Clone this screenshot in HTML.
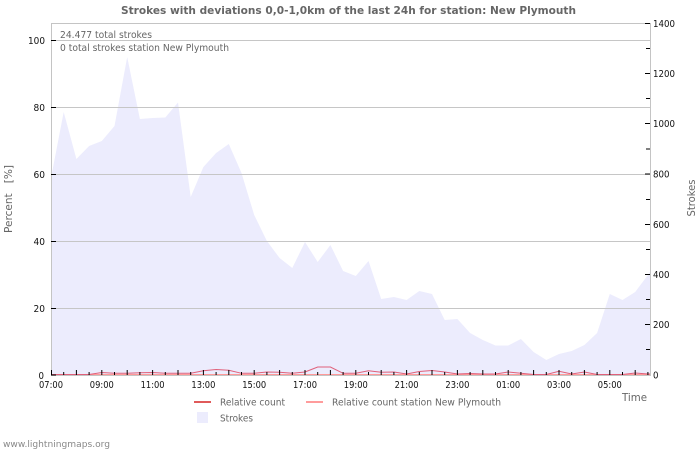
<!DOCTYPE html>
<html>
<head>
<meta charset="utf-8">
<style>
html,body{margin:0;padding:0;background:#fff;}
svg{display:block;}
text{font-family:"DejaVu Sans","Liberation Sans",sans-serif;}
</style>
</head>
<body>
<svg width="700" height="450" viewBox="0 0 700 450" xmlns="http://www.w3.org/2000/svg">
<rect width="700" height="450" fill="#fff"/>
<text x="348.5" y="14" text-anchor="middle" font-size="11" font-weight="bold" fill="#666" textLength="455" lengthAdjust="spacingAndGlyphs">Strokes with deviations 0,0-1,0km of the last 24h for station: New Plymouth</text>

<path fill="#ececfd" d="M51,375 L51,178 L63.7,112 L76.4,159 L89.1,146 L101.8,141 L114.5,126 L127.2,57 L139.9,119 L152.6,118 L165.3,117.5 L178,102.5 L190.7,197 L203.4,167 L216.1,153 L228.8,144 L241.5,173 L254.2,215 L266.9,241 L279.6,258 L292.3,268 L305,242 L317.7,262 L330.4,245 L343.1,271 L355.8,276 L368.5,261 L381.2,299 L393.9,297 L406.6,300 L419.3,291 L432,294 L444.7,320 L457.4,319 L470.1,333 L482.8,340 L495.5,345.5 L508.2,345.5 L520.9,339 L533.6,352 L546.3,360 L559,354 L571.7,351 L584.4,345 L597.1,333 L609.8,294 L622.5,300 L635.2,292 L647.9,275 L650,272 L650,375 Z"/>

<g stroke="#c6c6c6" stroke-width="1">
<line x1="51" y1="40.5" x2="650" y2="40.5"/>
<line x1="51" y1="107.5" x2="650" y2="107.5"/>
<line x1="51" y1="174.5" x2="650" y2="174.5"/>
<line x1="51" y1="241.5" x2="650" y2="241.5"/>
<line x1="51" y1="308.5" x2="650" y2="308.5"/>
</g>
<g stroke="#c4c4c4" stroke-width="1" fill="none">
<line x1="51" y1="23.5" x2="650" y2="23.5"/>
<line x1="51.5" y1="23" x2="51.5" y2="375"/>
<line x1="650.5" y1="23" x2="650.5" y2="375"/>
<line x1="51" y1="375.5" x2="651" y2="375.5"/>
</g>

<line x1="51" y1="374.5" x2="650" y2="374.5" stroke="#ff9999" stroke-width="1"/>
<polyline fill="none" stroke="#e0607a" stroke-width="1" points="51,374.5 63.7,374.5 76.4,374.5 89.1,374.5 101.8,372.5 114.5,373.3 127.2,373.3 139.9,372.7 152.6,372.5 165.3,373.3 178,373.3 190.7,373.3 203.4,370.8 216.1,369.5 228.8,370.3 241.5,373.3 254.2,373.3 266.9,372 279.6,372.3 292.3,373.3 305,372 317.7,367 330.4,367 343.1,373.3 355.8,373.3 368.5,370.7 381.2,372.3 393.9,372 406.6,374 419.3,371.5 432,370.5 444.7,372 457.4,374 470.1,373.5 482.8,374 495.5,374 508.2,372 520.9,373.3 533.6,374.5 546.3,374.5 559,371.3 571.7,374 584.4,372 597.1,374.5 609.8,374.5 622.5,374.5 635.2,373 647.9,374 650,374"/>

<g stroke="#000" stroke-width="1">
<line x1="51" y1="40.5" x2="56" y2="40.5"/>
<line x1="51" y1="107.5" x2="56" y2="107.5"/>
<line x1="51" y1="174.5" x2="56" y2="174.5"/>
<line x1="51" y1="241.5" x2="56" y2="241.5"/>
<line x1="51" y1="308.5" x2="56" y2="308.5"/>
<line x1="51" y1="375" x2="56" y2="375"/>
</g>
<g stroke="#000" stroke-width="1">
<line x1="645" y1="23.5" x2="650" y2="23.5"/>
<line x1="645" y1="73.5" x2="650" y2="73.5"/>
<line x1="645" y1="123.5" x2="650" y2="123.5"/>
<line x1="645" y1="174" x2="650" y2="174"/>
<line x1="645" y1="224.5" x2="650" y2="224.5"/>
<line x1="645" y1="274.5" x2="650" y2="274.5"/>
<line x1="645" y1="324.5" x2="650" y2="324.5"/>
<line x1="646" y1="48.5" x2="650" y2="48.5"/>
<line x1="646" y1="98.5" x2="650" y2="98.5"/>
<line x1="646" y1="149" x2="650" y2="149"/>
<line x1="646" y1="199.5" x2="650" y2="199.5"/>
<line x1="646" y1="249.5" x2="650" y2="249.5"/>
<line x1="646" y1="299.5" x2="650" y2="299.5"/>
<line x1="646" y1="349.5" x2="650" y2="349.5"/>
</g>
<g stroke="#000" stroke-width="1">
<line x1="51.5" y1="370" x2="51.5" y2="375"/>
<line x1="63.7" y1="372" x2="63.7" y2="375"/>
<line x1="76.4" y1="370" x2="76.4" y2="375"/>
<line x1="89.1" y1="372" x2="89.1" y2="375"/>
<line x1="101.8" y1="370" x2="101.8" y2="375"/>
<line x1="114.5" y1="372" x2="114.5" y2="375"/>
<line x1="127.2" y1="370" x2="127.2" y2="375"/>
<line x1="139.9" y1="372" x2="139.9" y2="375"/>
<line x1="152.6" y1="370" x2="152.6" y2="375"/>
<line x1="165.3" y1="372" x2="165.3" y2="375"/>
<line x1="178" y1="370" x2="178" y2="375"/>
<line x1="190.7" y1="372" x2="190.7" y2="375"/>
<line x1="203.4" y1="370" x2="203.4" y2="375"/>
<line x1="216.1" y1="372" x2="216.1" y2="375"/>
<line x1="228.8" y1="370" x2="228.8" y2="375"/>
<line x1="241.5" y1="372" x2="241.5" y2="375"/>
<line x1="254.2" y1="370" x2="254.2" y2="375"/>
<line x1="266.9" y1="372" x2="266.9" y2="375"/>
<line x1="279.6" y1="370" x2="279.6" y2="375"/>
<line x1="292.3" y1="372" x2="292.3" y2="375"/>
<line x1="305" y1="370" x2="305" y2="375"/>
<line x1="317.7" y1="372" x2="317.7" y2="375"/>
<line x1="330.4" y1="370" x2="330.4" y2="375"/>
<line x1="343.1" y1="372" x2="343.1" y2="375"/>
<line x1="355.8" y1="370" x2="355.8" y2="375"/>
<line x1="368.5" y1="372" x2="368.5" y2="375"/>
<line x1="381.2" y1="370" x2="381.2" y2="375"/>
<line x1="393.9" y1="372" x2="393.9" y2="375"/>
<line x1="406.6" y1="370" x2="406.6" y2="375"/>
<line x1="419.3" y1="372" x2="419.3" y2="375"/>
<line x1="432" y1="370" x2="432" y2="375"/>
<line x1="444.7" y1="372" x2="444.7" y2="375"/>
<line x1="457.4" y1="370" x2="457.4" y2="375"/>
<line x1="470.1" y1="372" x2="470.1" y2="375"/>
<line x1="482.8" y1="370" x2="482.8" y2="375"/>
<line x1="495.5" y1="372" x2="495.5" y2="375"/>
<line x1="508.2" y1="370" x2="508.2" y2="375"/>
<line x1="520.9" y1="372" x2="520.9" y2="375"/>
<line x1="533.6" y1="370" x2="533.6" y2="375"/>
<line x1="546.3" y1="372" x2="546.3" y2="375"/>
<line x1="559" y1="370" x2="559" y2="375"/>
<line x1="571.7" y1="372" x2="571.7" y2="375"/>
<line x1="584.4" y1="370" x2="584.4" y2="375"/>
<line x1="597.1" y1="372" x2="597.1" y2="375"/>
<line x1="609.8" y1="370" x2="609.8" y2="375"/>
<line x1="622.5" y1="372" x2="622.5" y2="375"/>
<line x1="635.2" y1="370" x2="635.2" y2="375"/>
<line x1="647.9" y1="372" x2="647.9" y2="375"/>
</g>

<g font-size="10" fill="#111" text-anchor="end">
<text x="45" y="44" textLength="17" lengthAdjust="spacingAndGlyphs">100</text>
<text x="45" y="111" textLength="11.5" lengthAdjust="spacingAndGlyphs">80</text>
<text x="45" y="178" textLength="11.5" lengthAdjust="spacingAndGlyphs">60</text>
<text x="45" y="245" textLength="11.5" lengthAdjust="spacingAndGlyphs">40</text>
<text x="45" y="312" textLength="11.5" lengthAdjust="spacingAndGlyphs">20</text>
<text x="44" y="379" textLength="5.5" lengthAdjust="spacingAndGlyphs">0</text>
</g>
<g font-size="10" fill="#111">
<text x="653" y="27" textLength="22" lengthAdjust="spacingAndGlyphs">1400</text>
<text x="653" y="77" textLength="22" lengthAdjust="spacingAndGlyphs">1200</text>
<text x="653" y="127" textLength="22" lengthAdjust="spacingAndGlyphs">1000</text>
<text x="653" y="177.5" textLength="16.5" lengthAdjust="spacingAndGlyphs">800</text>
<text x="653" y="228" textLength="16.5" lengthAdjust="spacingAndGlyphs">600</text>
<text x="653" y="278" textLength="16.5" lengthAdjust="spacingAndGlyphs">400</text>
<text x="653" y="328" textLength="16.5" lengthAdjust="spacingAndGlyphs">200</text>
<text x="653" y="378.5" textLength="5.5" lengthAdjust="spacingAndGlyphs">0</text>
</g>
<g font-size="10" fill="#111" text-anchor="middle">
<text x="51" y="388" textLength="24" lengthAdjust="spacingAndGlyphs">07:00</text>
<text x="101.8" y="388" textLength="24" lengthAdjust="spacingAndGlyphs">09:00</text>
<text x="152.6" y="388" textLength="24" lengthAdjust="spacingAndGlyphs">11:00</text>
<text x="203.4" y="388" textLength="24" lengthAdjust="spacingAndGlyphs">13:00</text>
<text x="254.2" y="388" textLength="24" lengthAdjust="spacingAndGlyphs">15:00</text>
<text x="305" y="388" textLength="24" lengthAdjust="spacingAndGlyphs">17:00</text>
<text x="355.8" y="388" textLength="24" lengthAdjust="spacingAndGlyphs">19:00</text>
<text x="406.6" y="388" textLength="24" lengthAdjust="spacingAndGlyphs">21:00</text>
<text x="457.4" y="388" textLength="24" lengthAdjust="spacingAndGlyphs">23:00</text>
<text x="508.2" y="388" textLength="24" lengthAdjust="spacingAndGlyphs">01:00</text>
<text x="559" y="388" textLength="24" lengthAdjust="spacingAndGlyphs">03:00</text>
<text x="609.8" y="388" textLength="24" lengthAdjust="spacingAndGlyphs">05:00</text>
</g>

<text x="622" y="401" font-size="11" fill="#666" textLength="25" lengthAdjust="spacingAndGlyphs">Time</text>
<text transform="translate(12,199) rotate(-90)" text-anchor="middle" font-size="10.5" fill="#666" textLength="68" lengthAdjust="spacingAndGlyphs" xml:space="preserve">Percent   [%]</text>
<text transform="translate(695,198) rotate(-90)" text-anchor="middle" font-size="10.5" fill="#666" textLength="37" lengthAdjust="spacingAndGlyphs">Strokes</text>

<text x="60" y="38" font-size="9.5" fill="#666" textLength="92" lengthAdjust="spacingAndGlyphs">24.477 total strokes</text>
<text x="60" y="51" font-size="9.5" fill="#666" textLength="169" lengthAdjust="spacingAndGlyphs">0 total strokes station New Plymouth</text>

<line x1="194" y1="402" x2="211" y2="402" stroke="#e05a5a" stroke-width="2"/>
<text x="220" y="405.5" font-size="9.5" fill="#666" textLength="65" lengthAdjust="spacingAndGlyphs">Relative count</text>
<line x1="306" y1="402" x2="323" y2="402" stroke="#ff9c9c" stroke-width="2"/>
<text x="332" y="405.5" font-size="9.5" fill="#666" textLength="169" lengthAdjust="spacingAndGlyphs">Relative count station New Plymouth</text>
<rect x="197" y="412" width="11" height="11" fill="#ececfd"/>
<text x="220" y="421.5" font-size="9.5" fill="#666" textLength="33" lengthAdjust="spacingAndGlyphs">Strokes</text>

<text x="3" y="447" font-size="9" fill="#888" textLength="107" lengthAdjust="spacingAndGlyphs">www.lightningmaps.org</text>
</svg>
</body>
</html>
